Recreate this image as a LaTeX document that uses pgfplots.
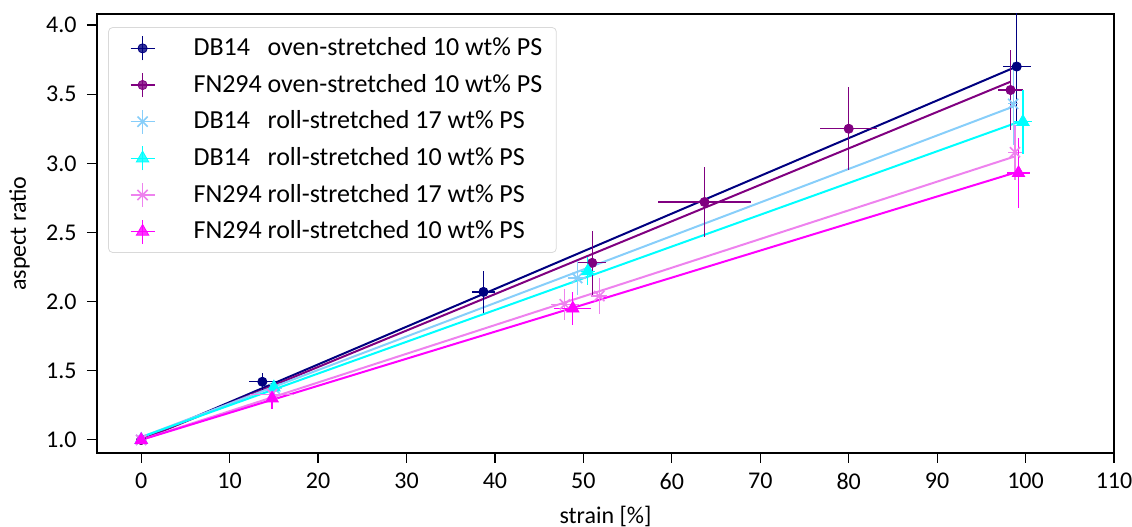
\documentclass[border=0pt]{standalone}
\usepackage{fontspec}
\setmainfont{Carlito}
\usepackage{pgfplots}
\pgfplotsset{compat=1.18}
\definecolor{cnavy}{RGB}{0,0,128}
\definecolor{cpurple}{RGB}{128,0,128}
\definecolor{csky}{RGB}{135,206,250}
\definecolor{ccyan}{RGB}{0,255,255}
\definecolor{cviolet}{RGB}{238,130,238}
\definecolor{cmag}{RGB}{255,0,255}
\newcommand{\nm}[1]{\makebox[37pt][l]{#1}}
\begin{document}
\fontsize{12}{14.4}\selectfont
\begin{tikzpicture}
\begin{axis}[
 scale only axis, width=508.5pt, height=219.5pt,
 xmin=-5, xmax=110, ymin=0.905, ymax=4.08,
 xtick={0,10,...,110}, ytick={1,1.5,...,4},
 yticklabel style={xshift=-1pt, /pgf/number format/.cd, fixed, fixed zerofill, precision=1},
 /pgf/number format/assume math mode=true,
 tick align=outside, xtick pos=left, ytick pos=left,
 major tick length=5pt,
 tick style={black, line width=0.6pt},
 axis line style={line width=0.8pt},
 xlabel={strain [\%]}, ylabel={aspect ratio},
 label style={font=\fontsize{12}{14}\selectfont},
 ticklabel style={font=\fontsize{12}{14}\selectfont},
 xticklabel style={yshift=-1pt},
 error bars/error bar style={line width=0.6pt},
 error bars/error mark=none,
 legend cell align=left,
 legend image code/.code={
   \path[draw=none,fill=none] (-12pt,0pt) -- (23.5pt,0pt);
   \draw[line width=0.6pt,#1] (-6pt,0pt) -- (6pt,0pt) (0pt,-6pt) -- (0pt,6pt);
   \draw[#1] plot coordinates {(0pt,0pt)};
 },
 legend style={at={(0.011,0.97)}, anchor=north west, draw=black!15, rounded corners=2pt,
   fill=white, fill opacity=0.8, text opacity=1, draw opacity=1,
   font=\fontsize{13}{16}\selectfont, row sep=3.5pt, inner xsep=5pt, inner ysep=3pt},
]
\coordinate (SW) at (rel axis cs:0,0);
\coordinate (NE) at (rel axis cs:1,1);
% fit lines
\addplot[cnavy, line width=1pt, forget plot] coordinates {(0,1.0) (99,3.70)};
\addplot[cpurple, line width=1pt, forget plot] coordinates {(0,1.0) (98.3,3.59)};
\addplot[csky, line width=1pt, forget plot] coordinates {(0,1.02) (98.6,3.41)};
\addplot[ccyan, line width=1pt, forget plot] coordinates {(0,1.02) (99.7,3.31)};
\addplot[cviolet, line width=1pt, forget plot] coordinates {(0,1.0) (98.8,3.05)};
\addplot[cmag, line width=1pt, forget plot] coordinates {(0,1.0) (99.2,2.94)};
% data
\addplot[cnavy, only marks, mark=*, mark size=2.3pt,
  error bars/.cd, x dir=both, x explicit, y dir=both, y explicit]
  coordinates {(0,1.0) +- (0,0) (13.7,1.42) +- (1.5,0.06) (38.7,2.07) +- (1.3,0.15) (99,3.70) +- (1.6,0.4)};
\addlegendentry{\nm{DB14}oven-stretched 10 wt\% PS}
\addplot[cpurple, only marks, mark=*, mark size=2.3pt,
  error bars/.cd, x dir=both, x explicit, y dir=both, y explicit]
  coordinates {(0,1.0) +- (0,0) (51,2.28) +- (1.6,0.23) (63.7,2.72) +- (5.3,0.25) (80,3.25) +- (3.2,0.3) (98.3,3.53) +- (1.4,0.29)};
\addlegendentry{\nm{FN294}oven-stretched 10 wt\% PS}
\addplot[csky, only marks, mark=x, mark size=3.6pt, mark options={line width=0.8pt},
  error bars/.cd, x dir=both, x explicit, y dir=both, y explicit]
  coordinates {(0,1.0) +- (0,0) (15.1,1.37) +- (0.8,0.05) (49.3,2.17) +- (1.0,0.12) (98.6,3.43) +- (0.6,0.3)};
\addlegendentry{\nm{DB14}roll-stretched 17 wt\% PS}
\addplot[ccyan, only marks, mark=triangle*, mark size=3.6pt,
  error bars/.cd, x dir=both, x explicit, y dir=both, y explicit]
  coordinates {(0,1.0) +- (0,0) (15,1.38) +- (0.5,0.05) (50.5,2.22) +- (0.8,0.1) (99.7,3.30) +- (1.0,0.23)};
\addlegendentry{\nm{DB14}roll-stretched 10 wt\% PS}
\addplot[cviolet, only marks, mark=x, mark size=3.6pt, mark options={line width=0.8pt},
  error bars/.cd, x dir=both, x explicit, y dir=both, y explicit]
  coordinates {(0,1.0) +- (0,0) (14.8,1.33) +- (2.5,0.05) (47.9,1.98) +- (1.6,0.11) (51.8,2.04) +- (0.9,0.13) (98.8,3.08) +- (0.8,0.2)};
\addlegendentry{\nm{FN294}roll-stretched 17 wt\% PS}
\addplot[cmag, only marks, mark=triangle*, mark size=3.6pt,
  error bars/.cd, x dir=both, x explicit, y dir=both, y explicit]
  coordinates {(0,1.0) +- (0,0) (14.8,1.30) +- (0.6,0.08) (48.8,1.95) +- (2.1,0.12) (99.2,2.93) +- (1.3,0.25)};
\addlegendentry{\nm{FN294}roll-stretched 10 wt\% PS}
\end{axis}
\pgfresetboundingbox
\path ([shift={(-48.5pt,-37pt)}]SW) rectangle ([shift={(9pt,7pt)}]NE);
\end{tikzpicture}
\end{document}
